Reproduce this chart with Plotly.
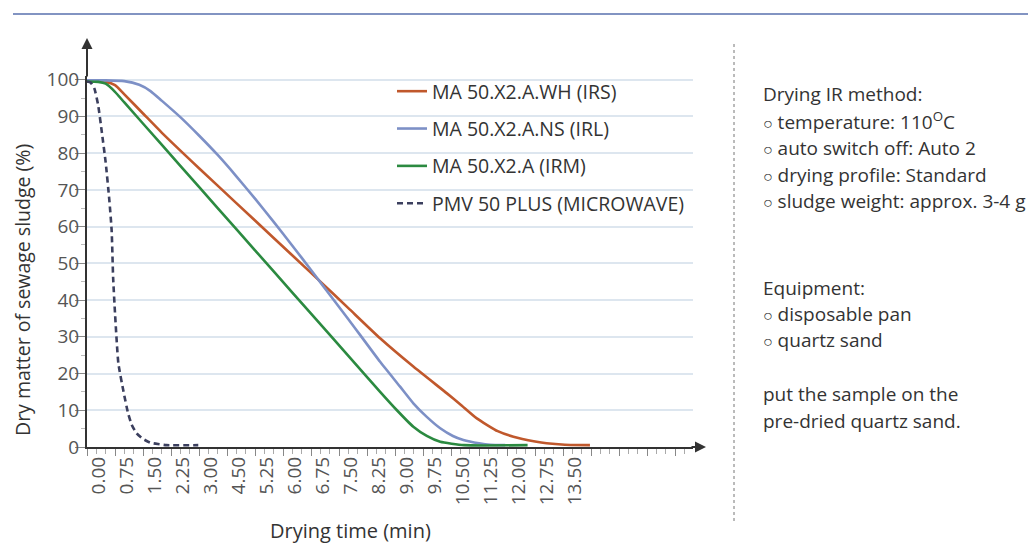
import plotly.graph_objects as go

# ---------------- data ----------------
x_tick_labels = ["0.00", "0.75", "1.50", "2.25", "3.00", "4.50", "5.25", "6.00", "6.75",
                 "7.50", "8.25", "9.00", "9.75", "10.50", "11.25", "12.00", "12.75", "13.50"]

irs_t = [0, 0.3, 0.5, 0.75, 1.0, 1.5, 2.0, 3.0, 4.0, 5.0, 6.0, 6.2, 7.0, 7.85, 8.74, 9.64,
         10.0, 10.44, 11.0, 11.42, 12.0, 12.31, 12.8, 13.47]
irs_v = [99.5, 99.5, 99.4, 98.5, 96.0, 90.8, 85.6, 75.9, 66.4, 56.9, 47.4, 45.5, 37.8, 29.6,
         21.9, 14.6, 11.6, 7.8, 4.3, 2.8, 1.5, 1.0, 0.6, 0.5]

irl_t = [0, 0.5, 1.0, 1.4, 1.7, 2.0, 2.5, 3.0, 3.5, 4.0, 4.5, 5.0, 5.5, 6.0, 6.2, 7.0, 7.85,
         8.38, 8.74, 9.1, 9.46, 9.8, 10.08, 10.5, 10.8, 11.2]
irl_v = [99.8, 99.8, 99.6, 98.6, 96.9, 94.3, 89.8, 84.8, 79.5, 73.7, 67.6, 61.3, 54.8, 48.2,
         45.5, 34.8, 23.2, 16.5, 11.9, 8.2, 5.1, 3.0, 1.9, 1.0, 0.6, 0.5]

irm_t = [0, 0.3, 0.5, 0.75, 1.0, 2.0, 3.0, 4.0, 5.0, 6.0, 7.0, 7.85, 8.3, 8.74, 9.1, 9.46,
         10.1, 11.8]
irm_v = [99.5, 99.4, 98.9, 96.7, 93.8, 82.3, 70.8, 59.3, 47.8, 36.3, 24.8, 15.0, 10.0, 5.5,
         3.0, 1.4, 0.5, 0.5]

mw_t = [0, 0.1, 0.2, 0.3, 0.4, 0.5, 0.6, 0.66, 0.7, 0.75, 0.84, 0.97, 1.1, 1.2, 1.33, 1.5,
        1.69, 1.9, 2.13, 2.98]
mw_v = [99.5, 99.2, 97.5, 93.0, 85.5, 77.5, 67.0, 59.0, 46.0, 36.5, 22.8, 15.5, 9.2, 6.0,
        3.7, 2.2, 1.2, 0.8, 0.5, 0.5]

series_names = ["MA 50.X2.A.WH (IRS)", "MA 50.X2.A.NS (IRL)", "MA 50.X2.A (IRM)",
                "PMV 50 PLUS (MICROWAVE)"]

x_title = "Drying time (min)"
y_title = "Dry matter of sewage sludge (%)"

info_lines_1 = ["Drying IR method:", "○ temperature: 110<sup>O</sup>C", "○ auto switch off: Auto 2",
                "○ drying profile: Standard", "○ sludge weight: approx. 3-4 g"]
info_lines_2 = ["Equipment:", "○ disposable pan", "○ quartz sand"]
info_lines_3 = ["put the sample on the", "pre-dried quartz sand."]

# ---------------- layout geometry ----------------
OFF = 8                      # page body margin of the HTML page
W, H = 1036 - OFF, 556 - OFF
L, R, T, B = 87 - OFF, 343, 76 - OFF, 109
PW, PH = W - L - R, H - T - B
XMAX, YMAX = 16.23, 101.0
step = 0.75
label_shift = 12 / (PW / XMAX)  # labels sit a little right of their tick marks


def px_x(p):
    """page pixel x -> paper coordinate"""
    return (p - OFF - L) / PW


def px_y(p):
    """page pixel y -> paper coordinate"""
    return (H - B - (p - OFF)) / PH


FONT = "Open Sans"
TXT = "#333333"

fig = go.Figure()
styles = [
    (irs_t, irs_v, "#c0582c", None),
    (irl_t, irl_v, "#7d90c6", None),
    (irm_t, irm_v, "#2b8a40", None),
    (mw_t, mw_v, "#3b3f5e", "6px,4px"),
]
for i, ((t, v, c, d), n) in enumerate(zip(styles, series_names)):
    fig.add_trace(go.Scatter(
        x=t, y=v, mode="lines", name=n, legendgroup=f"g{i}",
        line=dict(color=c, width=2.6, dash=d, shape="spline", smoothing=0.5),
        cliponaxis=False,
    ))

# invisible helper trace for the label axis
fig.add_trace(go.Scatter(x=[0, XMAX], y=[None, None], xaxis="x2", showlegend=False,
                         hoverinfo="skip", mode="lines"))

n_major = int(16 / step) + 1
fig.update_layout(
    width=W, height=H,
    margin=dict(l=L, r=R, t=T, b=B, pad=0, autoexpand=False),
    paper_bgcolor="white", plot_bgcolor="white",
    font=dict(family=FONT, size=18, color=TXT),
    xaxis=dict(
        range=[0, XMAX], showgrid=False, zeroline=False, automargin=False,
        showline=True, linecolor="#333", linewidth=2,
        tickmode="array", tickvals=[i * step for i in range(n_major)],
        showticklabels=False, ticks="outside", ticklen=7, tickwidth=1.3, tickcolor="#888",
        minor=dict(tick0=0, dtick=0.25, ticks="outside", ticklen=5, tickcolor="#aaa",
                   tickwidth=1, showgrid=False),
        title=None,
    ),
    xaxis2=dict(
        range=[0, XMAX], overlaying="x", side="bottom", showgrid=False, zeroline=False,
        automargin=False,
        tickmode="array",
        tickvals=[i * step + label_shift for i in range(len(x_tick_labels))],
        ticktext=x_tick_labels, tickangle=-90, ticks="", ticklabelstandoff=5,
        tickfont=dict(size=19, color="#555"),
    ),
    yaxis=dict(
        range=[0, YMAX], showgrid=True, gridcolor="#dde6ef", gridwidth=1.6,
        zeroline=False, showline=True, linecolor="#333", linewidth=2, automargin=False,
        tickmode="array", tickvals=list(range(0, 101, 10)),
        ticks="outside", ticklen=10, tickwidth=1.3, tickcolor="#888", ticklabelstandoff=-8,
        minor=dict(tickvals=list(range(5, 100, 10)), ticks="outside", ticklen=4,
                   tickcolor="#bbb", showgrid=False),
        tickfont=dict(size=19, color="#555"),
    ),
    legend=dict(
        x=px_x(392), y=px_y(72), xanchor="left", yanchor="top",
        bgcolor="rgba(0,0,0,0)", borderwidth=0, traceorder="grouped",
        tracegroupgap=9, itemwidth=30, font=dict(size=19.5, color=TXT),
    ),
    showlegend=True,
)

# axis titles
fig.add_annotation(x=px_x(350), y=px_y(530), xref="paper", yref="paper", text=x_title,
                   showarrow=False, xanchor="center", yanchor="middle",
                   font=dict(size=20, color=TXT))
fig.add_annotation(x=px_x(22), y=px_y(290), xref="paper", yref="paper", text=y_title,
                   textangle=-90, showarrow=False, xanchor="center", yanchor="middle",
                   borderpad=0, font=dict(size=19.5, color=TXT))

# axis arrows
fig.add_annotation(x=0, y=px_y(38), xref="paper", yref="paper", ax=0, ay=40,
                   text="", showarrow=True, arrowhead=2, arrowsize=1.1, arrowwidth=2,
                   arrowcolor="#333", standoff=0)
fig.add_annotation(x=px_x(706), y=0, xref="paper", yref="paper", ax=-16, ay=0,
                   text="", showarrow=True, arrowhead=2, arrowsize=1.1, arrowwidth=2,
                   arrowcolor="#333", standoff=0)

# top rule and dashed separator
fig.add_shape(type="line", xref="paper", yref="paper", x0=px_x(13), x1=px_x(1036),
              y0=px_y(14), y1=px_y(14), line=dict(color="#8294c2", width=2))
fig.add_shape(type="line", xref="paper", yref="paper", x0=px_x(734), x1=px_x(734),
              y0=px_y(44), y1=px_y(522), line=dict(color="#777", width=1, dash="3px,3px"))

# side text
def put_lines(lines, ys):
    for txt, yy in zip(lines, ys):
        txt = txt.replace("○", "<span style='font-size:16px'>○</span>")
        fig.add_annotation(x=px_x(761), y=px_y(yy), xref="paper", yref="paper",
                           text=txt, showarrow=False, xanchor="left", yanchor="middle",
                           font=dict(size=19, color=TXT, family=FONT))


put_lines(info_lines_1, [94, 121, 148, 175, 201])
put_lines(info_lines_2, [288, 314, 340])
put_lines(info_lines_3, [394, 421])

fig.write_html("out.html")
